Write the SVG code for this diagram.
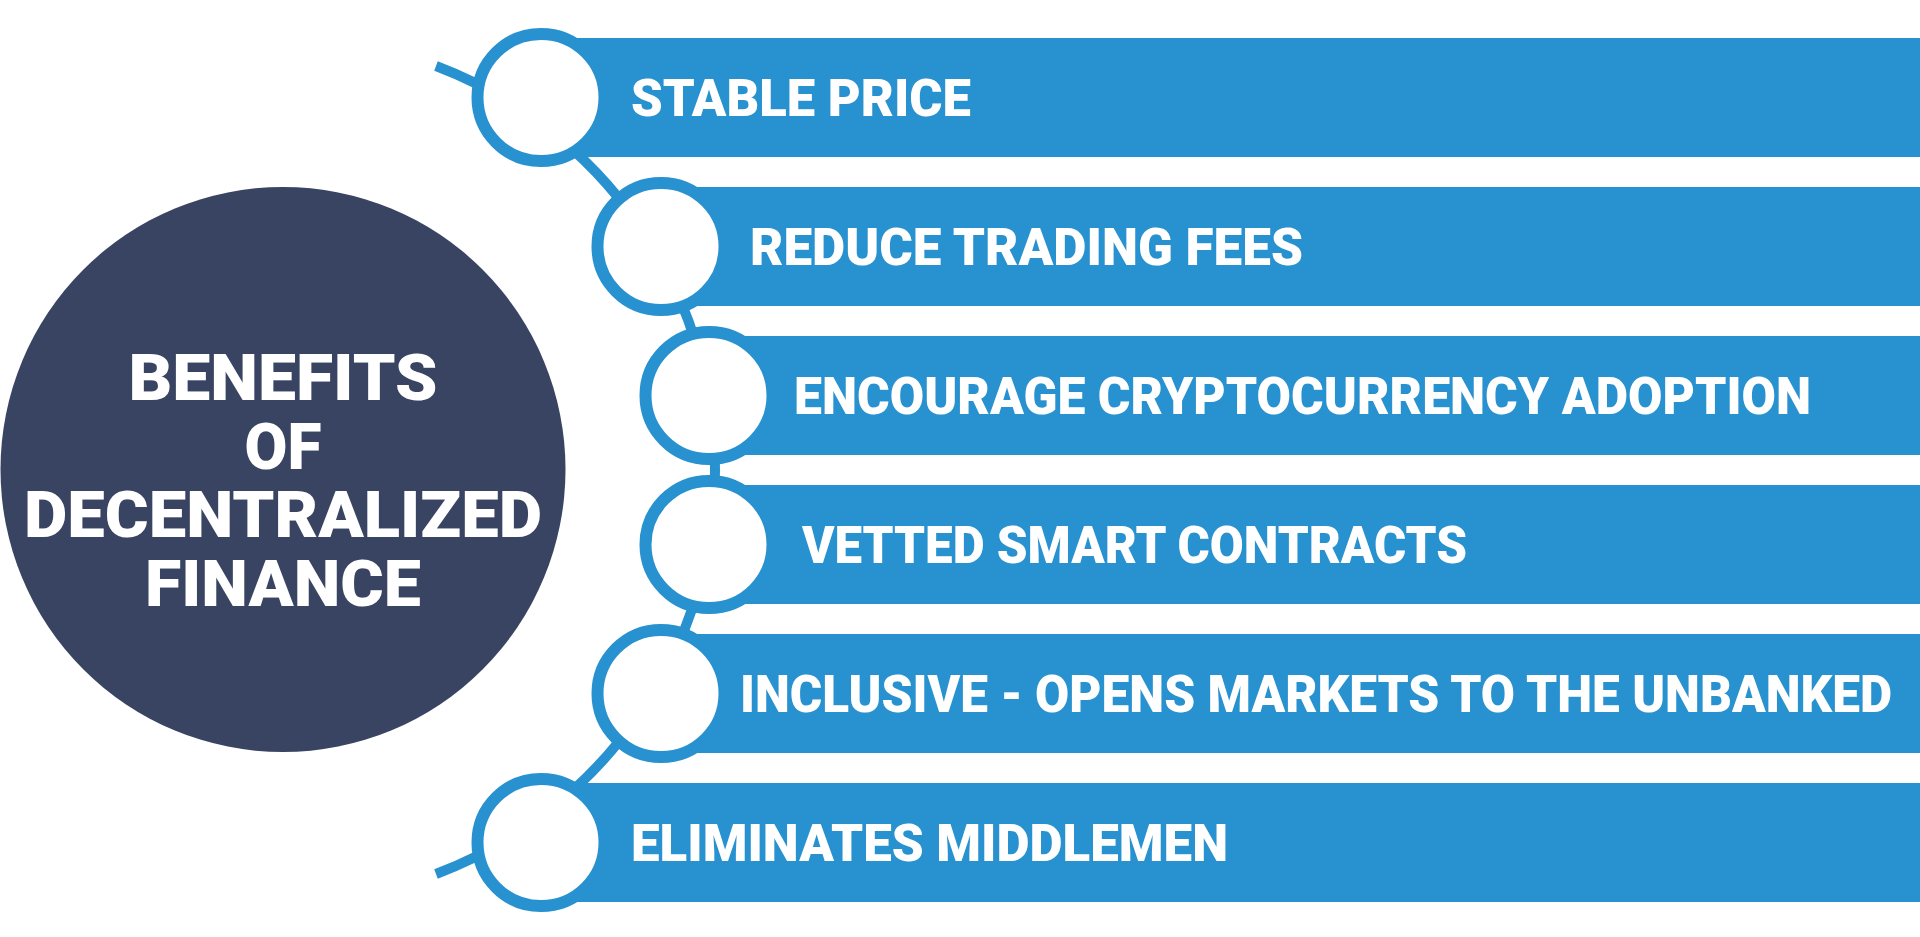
<svg xmlns="http://www.w3.org/2000/svg" width="1920" height="937" viewBox="0 0 1920 937">
<style>
.bar{fill:#2891cf}
.ring{fill:#ffffff;stroke:#2891cf;stroke-width:12}
.lbl{fill:#ffffff;font-family:Roboto,"Liberation Sans",sans-serif;font-weight:900;font-size:51px}
.title{fill:#ffffff;font-family:Roboto,"Liberation Sans",sans-serif;font-weight:900;font-size:65px;text-anchor:middle}
.arc{fill:none;stroke:#2891cf;stroke-width:10}
</style>
<rect width="1920" height="937" fill="#ffffff"/>
<g id="connectors">
<path class="arc" d="M 436 66 A 432 432 0 0 1 436 874"/>
</g>
<g id="center">
<circle cx="283" cy="469.5" r="282.5" fill="#394362"/>
<text class="title" x="283" y="400" textLength="309" lengthAdjust="spacingAndGlyphs">BENEFITS</text>
<text class="title" x="283" y="468.5" textLength="77" lengthAdjust="spacingAndGlyphs">OF</text>
<text class="title" x="283" y="537" textLength="518" lengthAdjust="spacingAndGlyphs">DECENTRALIZED</text>
<text class="title" x="283" y="605.5" textLength="276" lengthAdjust="spacingAndGlyphs">FINANCE</text>
</g>
<g id="n1">
<rect class="bar" x="541" y="38" width="1379" height="119"/>
<circle class="ring" cx="541" cy="97.5" r="63.5"/>
<text class="lbl" x="631" y="116" textLength="340" lengthAdjust="spacingAndGlyphs">STABLE PRICE</text>
</g>
<g id="n2">
<rect class="bar" x="661" y="187" width="1259" height="119"/>
<circle class="ring" cx="661" cy="246.5" r="63.5"/>
<text class="lbl" x="750" y="265" textLength="553" lengthAdjust="spacingAndGlyphs">REDUCE TRADING FEES</text>
</g>
<g id="n3">
<rect class="bar" x="709" y="336" width="1211" height="119"/>
<circle class="ring" cx="709" cy="395.5" r="63.5"/>
<text class="lbl" x="794" y="414" textLength="1017" lengthAdjust="spacingAndGlyphs">ENCOURAGE CRYPTOCURRENCY ADOPTION</text>
</g>
<g id="n4">
<rect class="bar" x="709" y="485" width="1211" height="119"/>
<circle class="ring" cx="709" cy="544.5" r="63.5"/>
<text class="lbl" x="802" y="563" textLength="665" lengthAdjust="spacingAndGlyphs">VETTED SMART CONTRACTS</text>
</g>
<g id="n5">
<rect class="bar" x="661" y="634" width="1259" height="119"/>
<circle class="ring" cx="661" cy="693.5" r="63.5"/>
<text class="lbl" x="740" y="712" textLength="1152" lengthAdjust="spacingAndGlyphs">INCLUSIVE - OPENS MARKETS TO THE UNBANKED</text>
</g>
<g id="n6">
<rect class="bar" x="541" y="783" width="1379" height="119"/>
<circle class="ring" cx="541" cy="842.5" r="63.5"/>
<text class="lbl" x="631" y="861" textLength="597" lengthAdjust="spacingAndGlyphs">ELIMINATES MIDDLEMEN</text>
</g>
</svg>
